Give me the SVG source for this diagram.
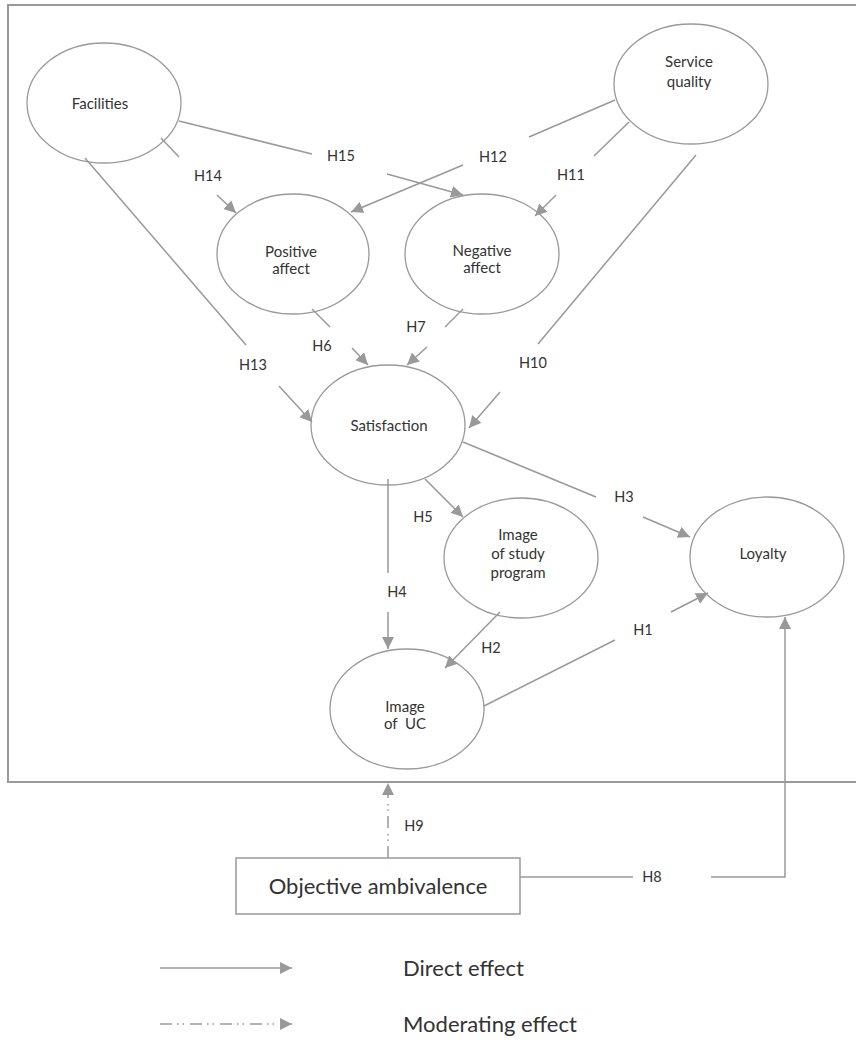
<svg xmlns="http://www.w3.org/2000/svg" width="856" height="1044" viewBox="0 0 856 1044">
<style>
.n{fill:none;stroke:#999;stroke-width:1.3}
.t{font-family:Lato,"Open Sans",sans-serif;font-size:15px;fill:#333;text-anchor:middle}
.h{font-family:Lato,"Open Sans",sans-serif;font-size:14.5px;fill:#333;text-anchor:middle}
.big{font-family:Lato,"Open Sans",sans-serif;font-size:22px;fill:#333}
.l{fill:none;stroke:#999;stroke-width:1.5}
.d{fill:none;stroke:#999;stroke-width:1.5;stroke-dasharray:12 5 1.5 4 1.5 6}
</style>
<defs>
<marker id="ah" markerUnits="userSpaceOnUse" markerWidth="13" markerHeight="12" refX="12" refY="6" orient="auto">
<path d="M0,0 L12,6 L0,12 z" fill="#999"/>
</marker>
</defs>
<rect width="856" height="1044" fill="#fff"/>
<path d="M856,5 H8 V782 H856" fill="none" stroke="#999" stroke-width="2"/>

<g id="facilities"><ellipse class="n" cx="104" cy="103" rx="77" ry="60"/><text class="t" x="100" y="109">Facilities</text></g>
<g id="service-quality"><ellipse class="n" cx="691" cy="84" rx="77" ry="60"/><text class="t" x="689" y="67">Service</text><text class="t" x="689" y="87">quality</text></g>
<g id="positive-affect"><ellipse class="n" cx="293" cy="254" rx="76" ry="60"/><text class="t" x="291" y="257">Positive</text><text class="t" x="291" y="274">affect</text></g>
<g id="negative-affect"><ellipse class="n" cx="482" cy="254" rx="77" ry="60"/><text class="t" x="482" y="256">Negative</text><text class="t" x="482" y="273">affect</text></g>
<g id="satisfaction"><ellipse class="n" cx="388" cy="425" rx="77" ry="60"/><text class="t" x="389" y="431">Satisfaction</text></g>
<g id="image-study-program"><ellipse class="n" cx="521" cy="558" rx="77" ry="60"/><text class="t" x="518" y="540">Image</text><text class="t" x="518" y="559">of study</text><text class="t" x="518" y="578">program</text></g>
<g id="loyalty"><ellipse class="n" cx="767" cy="557" rx="77" ry="60"/><text class="t" x="763" y="559">Loyalty</text></g>
<g id="image-uc"><ellipse class="n" cx="407" cy="709" rx="77" ry="60"/><text class="t" x="405" y="712">Image</text><text class="t" x="405" y="729" xml:space="preserve">of  UC</text></g>
<g id="objective-ambivalence"><rect x="236" y="858" width="284" height="56" fill="#fff" stroke="#999" stroke-width="1.5"/><text class="big" x="378" y="894" text-anchor="middle">Objective ambivalence</text></g>

<g id="connectors">
<path class="l" d="M179,121 L312,154"/><path class="l" d="M387,174 L463,195" marker-end="url(#ah)"/>
<path class="l" d="M161,138 L179,157"/><path class="l" d="M217,195 L236,213" marker-end="url(#ah)"/>
<path class="l" d="M615,100 L529,137"/><path class="l" d="M463,165 L351,212" marker-end="url(#ah)"/>
<path class="l" d="M629,122 L594,156"/><path class="l" d="M556,195 L535,216" marker-end="url(#ah)"/>
<path class="l" d="M85,158 L246,345"/><path class="l" d="M279,386 L312,422" marker-end="url(#ah)"/>
<path class="l" d="M312,309 L330,327"/><path class="l" d="M352,348 L368,365" marker-end="url(#ah)"/>
<path class="l" d="M463,309 L445,327"/><path class="l" d="M427,347 L407,365" marker-end="url(#ah)"/>
<path class="l" d="M696,155 L538,344"/><path class="l" d="M500,392 L469,428" marker-end="url(#ah)"/>
<path class="l" d="M425,479 L463,517" marker-end="url(#ah)"/>
<path class="l" d="M463,442 L596,497"/><path class="l" d="M643,517 L690,537" marker-end="url(#ah)"/>
<path class="l" d="M388,479 L388,573"/><path class="l" d="M388,612 L388,649" marker-end="url(#ah)"/>
<path class="l" d="M500,612 L445,668" marker-end="url(#ah)"/>
<path class="l" d="M484,706 L615,640"/><path class="l" d="M671,612 L708,593" marker-end="url(#ah)"/>
<path class="d" d="M388,858 L388,783" marker-end="url(#ah)"/>
<path class="l" d="M520,877 L633,877"/><path class="l" d="M711,877 L785,877 L785,617" marker-end="url(#ah)"/>
</g>

<g id="labels">
<text class="h" x="341" y="161">H15</text>
<text class="h" x="208" y="181">H14</text>
<text class="h" x="493" y="162">H12</text>
<text class="h" x="571" y="180">H11</text>
<text class="h" x="253" y="370">H13</text>
<text class="h" x="322" y="351">H6</text>
<text class="h" x="416" y="332">H7</text>
<text class="h" x="533" y="368">H10</text>
<text class="h" x="423" y="522">H5</text>
<text class="h" x="624" y="502">H3</text>
<text class="h" x="397" y="597">H4</text>
<text class="h" x="491" y="653">H2</text>
<text class="h" x="643" y="635">H1</text>
<text class="h" x="414" y="831">H9</text>
<text class="h" x="652" y="882">H8</text>
</g>

<g id="legend">
<path class="l" d="M160,968 L292,968" marker-end="url(#ah)"/>
<path class="d" d="M160,1024 L292,1024" marker-end="url(#ah)"/>
<text class="big" x="403" y="976">Direct effect</text>
<text class="big" x="403" y="1032">Moderating effect</text>
</g>
</svg>
